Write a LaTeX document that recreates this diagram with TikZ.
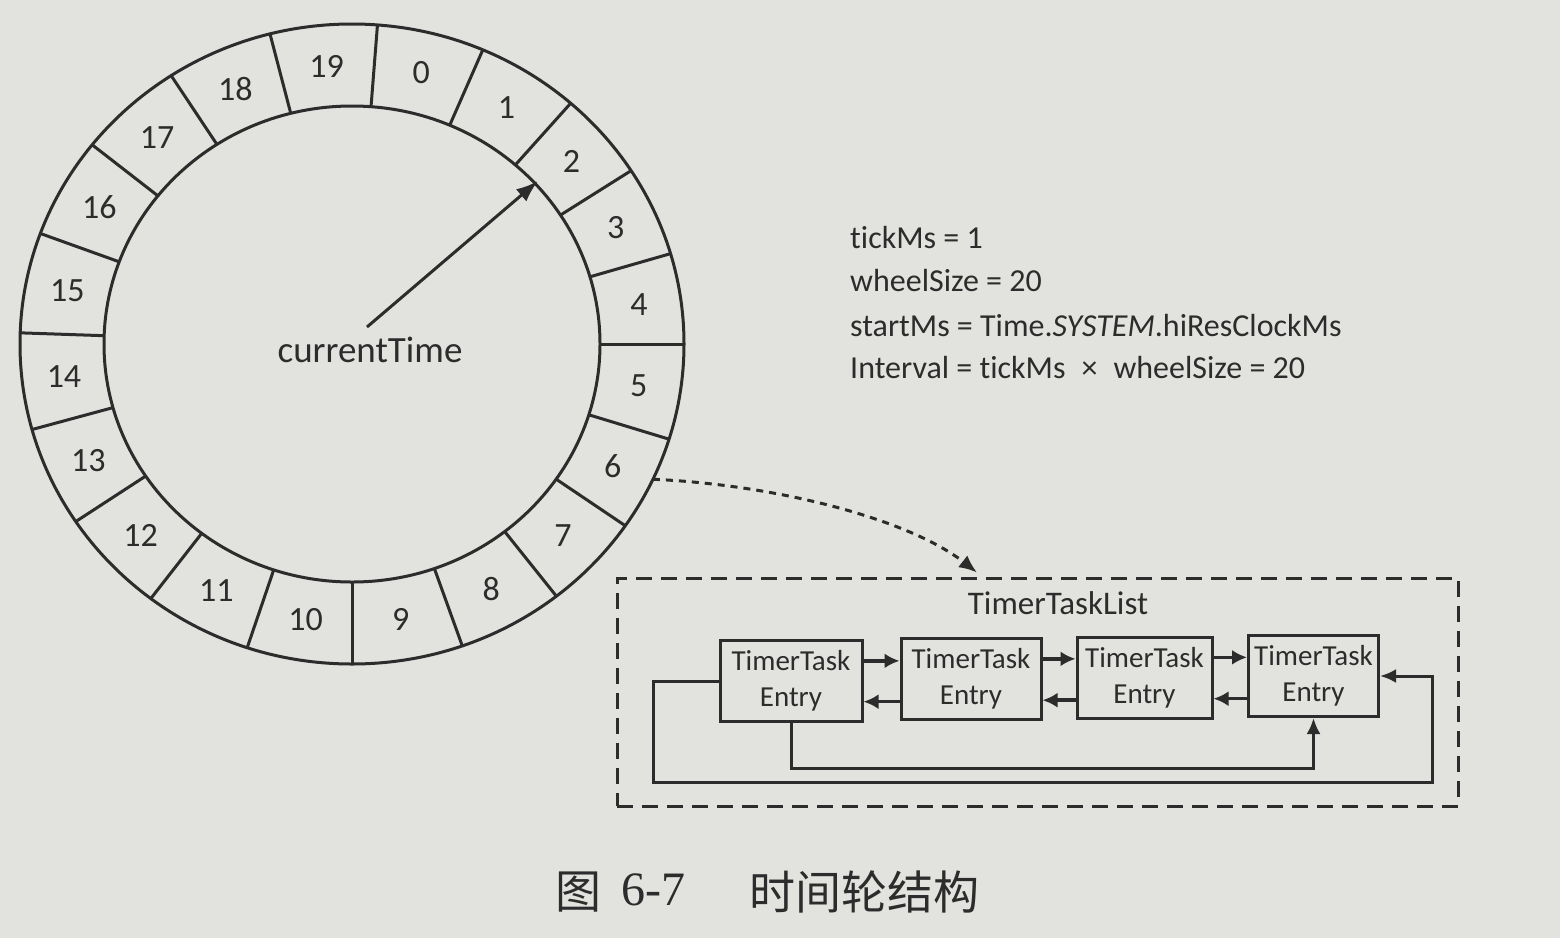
\documentclass[tikz,border=0pt]{standalone}
\usepackage{fontspec}
\setmainfont{Carlito}[Ligatures=NoCommon]
\newfontfamily\cjkfont{Noto Sans CJK SC}
\newfontfamily\capserif{Liberation Serif}
\usetikzlibrary{arrows.meta,calc}
\definecolor{paper}{RGB}{226,226,223}
\definecolor{ink}{RGB}{44,44,44}
\begin{document}
\begin{tikzpicture}[x=1pt,y=-1pt,
  ringline/.style={draw=ink,line width=3pt},
  segnum/.style={text=ink,font=\fontsize{34}{40}\selectfont,inner sep=0pt},
  infotext/.style={text=ink,font=\fontsize{32}{40}\selectfont,anchor=base west,inner sep=0pt},
  entrybox/.style={draw=ink,line width=3pt,align=center,text=ink,font=\fontsize{29}{36}\selectfont,inner sep=0pt,minimum height=81pt},
  link/.style={draw=ink,line width=3.6pt,-{Latex[length=15pt,width=15pt]}},
  loopline/.style={draw=ink,line width=3pt,-{Latex[length=16pt,width=14pt]}},
  dashbox/.style={draw=ink,line width=3pt,dash pattern=on 16pt off 9pt,inner sep=0pt},
  dasharrow/.style={draw=ink,line width=3pt,dash pattern=on 7pt off 6pt,-{Latex[length=18pt,width=15pt]}},
  handarrow/.style={draw=ink,line width=3pt,-{Latex[length=22pt,width=16pt]}},
  labeltext/.style={text=ink,inner sep=0pt}
]
\fill[paper] (0,0) rectangle (1560,938);
\useasboundingbox (0,0) rectangle (1560,938);

\def\cx{352}
\def\cy{344}
% wheel
\draw[ringline] (\cx,\cy) ellipse [x radius=332, y radius=320];
\draw[ringline] (\cx,\cy) ellipse [x radius=248, y radius=238];
\foreach \a in {0,16.4,32.8,48.8,66.8,85.6,104.3,123,141.5,159.8,178,195.5,213.7,232.7,251.6,270,289.4,308,325.4,342.7}
  \draw[ringline] ({\cx+248*cos(\a)},{\cy-238*sin(\a)}) -- ({\cx+332*cos(\a)},{\cy-320*sin(\a)});
\foreach \n/\a in {4/8.2,3/24.6,2/40.8,1/57.8,0/76.2,19/95,18/113.7,17/132.2,16/150.6,15/168.9,14/186.7,13/204.6,12/223.2,11/242.1,10/260.8,9/279.7,8/298.7,7/316.7,6/334,5/351.3}
  \node[segnum] (s\n) at ({\cx+290*cos(\a)},{\cy-279*sin(\a)}) {\n};

% current time pointer
\node[labeltext,font=\fontsize{37}{40}\selectfont] (ct) at (370,350) {currentTime};
\coordinate (cttail) at (367,327);
\coordinate (cttip) at (538,181);
\draw[handarrow] (cttail) -- (cttip);

% parameters
\node[infotext] (p1) at (850,248) {t\kern0pt ickMs = 1};
\node[infotext] (p2) at (850,291) {wheelSize = 20};
\node[infotext] (p3) at (850,336) {startMs = Time.\textit{SYSTEM}.hiResClockMs};
\node[infotext] (p4) at (850,378) {Interval = t\kern0pt ickMs\hspace{16pt}×\hspace{16pt}wheelSize = 20};

% timer task list
\node[dashbox,minimum width=841pt,minimum height=228pt] (list) at (1037.5,692) {};
\node[labeltext,font=\fontsize{33}{38}\selectfont] (listname) at (1058,603) {TimerTaskList};
\node[entrybox,minimum width=142pt] (b1) at (791,681) {TimerTask\\Entry};
\node[entrybox,minimum width=140pt] (b2) at (971,679) {TimerTask\\Entry};
\node[entrybox,minimum width=135pt] (b3) at (1144.5,677.5) {TimerTask\\Entry};
\node[entrybox,minimum width=130pt] (b4) at (1313.5,676) {TimerTask\\Entry};

\draw[link] ($(b1.north east)!0.26!(b1.south east)$) coordinate (f1) -- (f1 -| b2.west);
\draw[link] ($(b2.north east)!0.26!(b2.south east)$) coordinate (f2) -- (f2 -| b3.west);
\draw[link] ($(b3.north east)!0.26!(b3.south east)$) coordinate (f3) -- (f3 -| b4.west);
\draw[link] ($(b2.north west)!0.77!(b2.south west)$) coordinate (r1) -- (r1 -| b1.east);
\draw[link] ($(b3.north west)!0.77!(b3.south west)$) coordinate (r2) -- (r2 -| b2.east);
\draw[link] ($(b4.north west)!0.77!(b4.south west)$) coordinate (r3) -- (r3 -| b3.east);

\draw[loopline] (b1.south) -- ++(0,45) -| (b4.south);
\coordinate (lc) at (653,782);
\coordinate (rc) at (1432,782);
\draw[loopline] (b1.west) -| (lc) -- (rc) |- (b4.east);

% link from slot 6 to the list
\coordinate (s6out) at ({\cx+332*cos(335)},{\cy-320*sin(335)});
\draw[dasharrow] (s6out) .. controls (780,485) and (910,520) .. ([xshift=-60.5pt,yshift=4pt]list.north);

% caption
\node[labeltext,font=\cjkfont\fontsize{46}{50}\selectfont] (fig) at (578,892) {图};
\node[labeltext,font=\capserif\fontsize{48}{52}\selectfont] (fignum) at (653,890) {6-7};
\node[labeltext,font=\cjkfont\fontsize{46}{50}\selectfont] (figtitle) at (864,892) {时间轮结构};
\end{tikzpicture}
\end{document}
